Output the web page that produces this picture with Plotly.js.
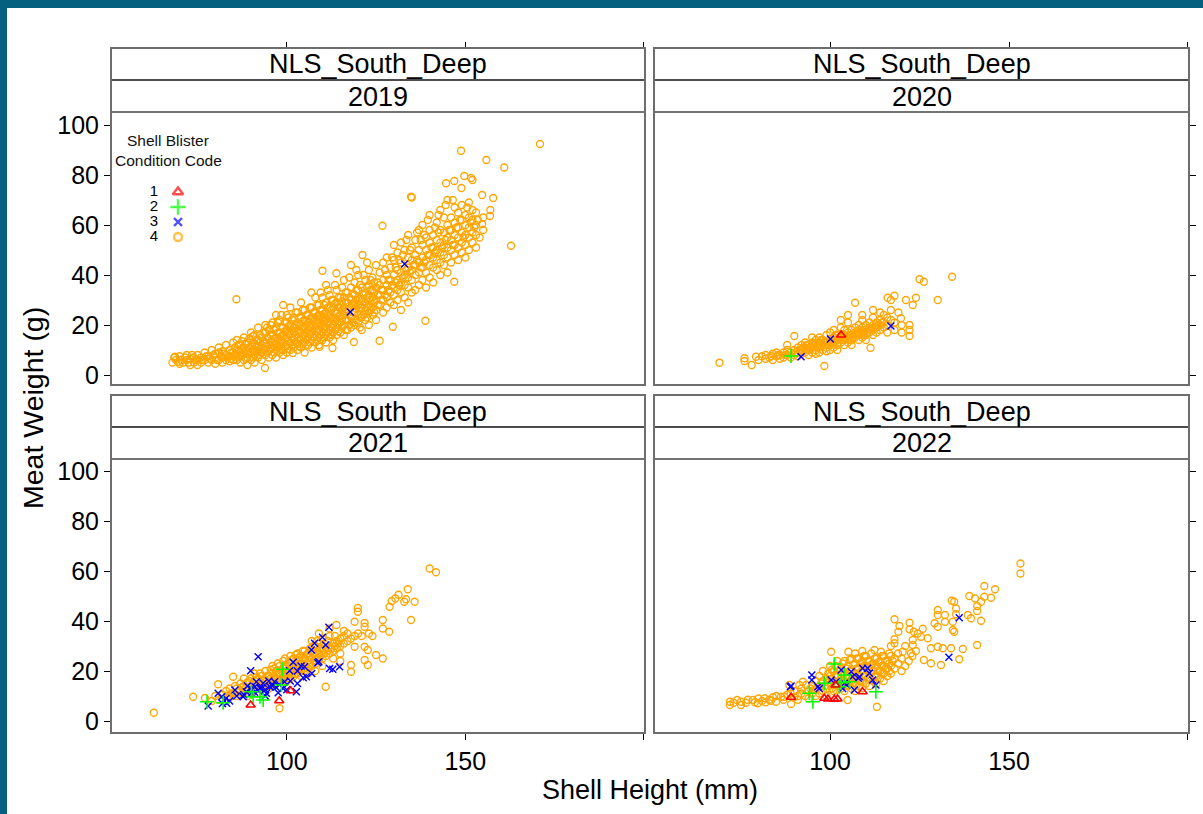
<!DOCTYPE html>
<html><head><meta charset="utf-8">
<script src="https://cdn.plot.ly/plotly-3.0.1.min.js"></script>
<style>
html,body{margin:0;padding:0;background:#fff;}
#wrap{position:relative;width:1203px;height:814px;overflow:hidden;}
#chart{position:absolute;left:0;top:0;width:1203px;height:814px;}
.bar{position:absolute;background:#05607f;}
</style></head><body>
<div id="wrap"><div id="chart"></div>
<div class="bar" style="left:0;top:0;width:1203px;height:8px"></div>
<div class="bar" style="left:0;top:0;width:7px;height:814px"></div>
</div>
<script>
// ---------------- DATA ----------------
const stripLabel = 'NLS_South_Deep';
const years = ['2019', '2020', '2021', '2022'];
const codes = ['1', '2', '3', '4'];
const legendTitle1 = 'Shell Blister';
const legendTitle2 = 'Condition Code';
const xTitle = 'Shell Height (mm)';
const yTitle = 'Meat Weight (g)';
const xTickVals = [100, 150, 200];
const xTickText = ['100', '150', ''];
const yTickVals = [0, 20, 40, 60, 80, 100];

// [shell height (mm), meat weight (g)]
const pts2019_code4 = [
[68,5],[68.5,7],[68.7,7.3],[69,6],[69.6,5.3],[70,4.5],[70,7.5],[71,5],[72,6],[72,8],[73,4],[73,6.5],[74,7],[74,5],[75,6],[75,8],[75,4],
[76,5],[76,7],[77,6],[77,9],[78,5],[78,7.5],[79,6],[79,10],[80,4.5],[80,7],[80,8.5],[81,6],[81,9],[81,11],[82,5],[82,7],[82,9.5],[83,6],[83,8],[83,12],[84,5.5],[84,7.5],[84,10],[85,6],[85,9],[85,13],[85.9,30.3],
[86,6],[86,8],[86,10],[86,14],[87,5],[87,7.5],[87,9],[87,12],[88,6],[88,8.5],[88,11],[88,15],[89,4],[89,7],[89,10],[89,13],[90,6],[90,9],[90,11.5],[90,14],[90,17],
[91,5],[91,8],[91,10],[91,12.5],[91,16],[92,7],[92,9.5],[92,11],[92,14],[92,19],[93,6],[93,9],[93,12],[93,15],[93.9,2.8],[94,8],[94,10.5],[94,13],[94,17],[94,20],[95,7],[95,9.5],[95,12],[95,14.5],[95,18],
[96,8],[96,11],[96,13],[96,16],[96,21],[97,7],[97,10],[97,12.5],[97,15],[97,19],[97,24],[98,9],[98,11.5],[98,14],[98,17],[98,22],[99,8],[99,10],[99,13],[99,16],[99,19],[99,28],
[100,9],[100,12],[100,15],[100,18],[100,21],[100,24],[101,10],[101,13],[101,16.5],[101,20],[101,27],[101.7,8.8],[102,11],[102,14],[102,17],[102,19],[102,23],[103,10],[103,12.5],[103,15],[103,18],[103,21],[103,25],
[104,11],[104,14],[104,17],[104,20],[104,23],[104,29],[105,9],[105,13],[105,16],[105,19],[105,22],[105,26],
[106,12],[106,15],[106,18],[106,21],[106,24],[106.9,33],[107,11],[107,14],[107,17],[107,20],[107,23],[107,27],[108,13],[108,16],[108,19],[108,22],[108,25],[108,31],
[109,12],[109.2,11.3],[109,15],[109,18],[109,21],[109,24],[109,28],[110,14],[110,17],[110,20],[110,23],[110,26],[110,31],[110,41.7],[111,13],[111,16],[111,19],[111,22],[111,25],[111,29],[111,36],
[112,15],[112,18],[112,21],[112,24],[112,27],[112,32],[112.8,10.8],[113,14],[113,17],[113,20],[113,23],[113,27],[113,30],[113.9,40.7],[114,16],[114,19],[114,22],[114,25],[114,29],[114,34],[115,17],[115,21],[115,24],[115,28],[115,31],
[116,16],[116,20],[116,24],[116,27],[116,31],[116,38],[117,18],[117,22],[117,26],[117,29],[117,33],[118,19],[118,23],[118,27],[118,30],[118,35],[118,44],[118.8,13.2],[119,20],[119,25],[119,28],[119,32],[119,37],
[120,21],[120,24],[120,28],[120,31],[120,34],[120,40],[121,18],[121,23],[121,27],[121,30],[121,35],[121.2,48],[122,22],[122,26],[122,29],[122,33],[122,38],[123,20],[123,25],[123,28],[123,32],[123,36],[123,42],
[124,24],[124,27],[124,31],[124,34],[124,39],[125,22],[125,26],[125,30],[125,35],[125,44],
[126,13.7],[126,28],[126,32],[126,36],[126,41],[126.8,59.7],[127,25],[127,30],[127,34],[127,38],[127,45],[128,27],[128,31],[128,36],[128,40],[128,47],[129,29],[129,33],[129,38],[129,43],[129.7,19.3],
[130,28],[130,32],[130,35],[130,40],[130,46],[130,52],[131,30],[131,34],[131,38],[131,42],[131,49],[132,26],[132,33],[132,37],[132,41],[132,45],[132,53],[133,31],[133,36],[133,40],[133,50],
[134,29],[134,35],[134,39],[134,43],[134,47],[134,56],[134.8,71.3],[135,33],[135,38],[135,42],[135,46],[135,51],[135,71],
[136,34],[136,40],[136,44],[136,48],[136,54],[137,36],[137,41],[137,45],[137,50],[137,58],[138,38],[138,43],[138,47],[138,52],[138,60],[138.8,21.7],[139,35],[139,41],[139,46],[139,50],[139,55],
[140,39],[140,44],[140,48],[140,53],[140,58],[140,64],[141,37],[141,43],[141,47],[141,51],[141,56],[142,42],[142,46],[142,50],[142,54],[142,61],[143,40],[143,45],[143,49],[143,53],[143,58],[143,66],
[144,44],[144,48],[144,52],[144,57],[144,63],[144.6,76.7],[145,41],[145,47],[145,51],[145,55],[145,60],[145,70],
[146,45],[146,50],[146,54],[146,58],[146,63],[146.9,37.3],[146.9,77.6],[147,48],[147,52],[147,56],[147,61],[147,67],[148,46],[148,51],[148,55],[148,59],[148,65],[148.8,89.7],[148.9,74.8],
[149,49],[149,53],[149,57],[149,62],[149,68],[149.7,79.6],[150,47],[150,52],[150,56],[150,60],[150,64],[151,50],[151,55],[151,59],[151,63],[151,69],[151.6,78.8],
[152,53],[152,57],[152,62],[152,66],[152,78],[153,51],[153,56],[153,60],[153,65],[154,55],[154.7,60.4],[154.7,72],[155,58],[155,63],[155.9,86],[156.9,63.6],[157.8,70.8],[157,66],[160.9,83],[162.8,51.7],[170.9,92.4]
];
const pts2019_code4_more = [
[70.5,6],[71.5,7],[72.5,5],[73.5,8],[74.5,6],[76.5,6],[77.5,7.5],[78.5,6.5],[79.5,8],[80.5,6],[81.5,7.5],[82.5,8.5],[83.5,7],[84.5,9],[84.5,6.5],
[85.5,8],[85.5,11],[86.5,7],[86.5,9.5],[86.5,12],[87.5,8],[87.5,10.5],[87.5,13.5],[88.5,7],[88.5,9.5],[88.5,12.5],[89.5,8.5],[89.5,11],[89.5,14.5],[90.5,7],[90.5,10],[90.5,13],[90.5,15.5],
[91.5,9],[91.5,11.5],[91.5,14],[92.5,8],[92.5,10.5],[92.5,13],[92.5,16],[93.5,10],[93.5,13.5],[93.5,17],[94.5,9],[94.5,11.5],[94.5,15],[94.5,19],[95.5,10.5],[95.5,13],[95.5,16],[95.5,20],
[96.5,9],[96.5,12],[96.5,14.5],[96.5,18],[97.5,11],[97.5,14],[97.5,17],[97.5,21],[98.5,10],[98.5,13],[98.5,15.5],[98.5,19],[98.5,24],[99.5,11.5],[99.5,14.5],[99.5,17.5],[99.5,21],
[100.5,10.5],[100.5,13.5],[100.5,16.5],[100.5,19.5],[100.5,23],[101.5,12],[101.5,15],[101.5,18],[101.5,22],[102.5,13],[102.5,16],[102.5,20],[102.5,25],[103.5,11.5],[103.5,14],[103.5,17],[103.5,20],[103.5,23],
[104.5,12.5],[104.5,15.5],[104.5,18.5],[104.5,21.5],[104.5,26],[105.5,14],[105.5,17],[105.5,20],[105.5,24],[106.5,13],[106.5,16.5],[106.5,19.5],[106.5,22.5],[106.5,27],
[107.5,15],[107.5,18],[107.5,21.5],[107.5,25],[108.5,14],[108.5,17.5],[108.5,20.5],[108.5,23.5],[108.5,28],[109.5,16],[109.5,19.5],[109.5,22.5],[109.5,26],[109.5,33],
[110.5,15],[110.5,18.5],[110.5,21.5],[110.5,24.5],[110.5,28],[111.5,17],[111.5,20.5],[111.5,23.5],[111.5,27],[111.5,34],[112.5,16],[112.5,19],[112.5,22.5],[112.5,26],[112.5,30],
[113.5,18],[113.5,21.5],[113.5,25],[113.5,28.5],[113.5,36],[114.5,17.5],[114.5,20.5],[114.5,23.5],[114.5,27],[114.5,31],[115.5,19],[115.5,22.5],[115.5,26],[115.5,29.5],[115.5,35],
[116.5,18],[116.5,22],[116.5,25.5],[116.5,29],[116.5,33],[117.5,20],[117.5,24],[117.5,27.5],[117.5,31],[117.5,39],[118.5,21],[118.5,25],[118.5,28.5],[118.5,32.5],[119.5,22],[119.5,26.5],[119.5,30],[119.5,34],[119.5,42],
[120.5,19],[120.5,23],[120.5,27],[120.5,30.5],[120.5,36],[121.5,24],[121.5,28],[121.5,32],[121.5,40],[122.5,23],[122.5,27],[122.5,31],[122.5,35],[122.5,45],[123.5,26],[123.5,30],[123.5,34],[123.5,38],
[124.5,25],[124.5,29],[124.5,33],[124.5,37],[125.5,28],[125.5,32],[125.5,37],[126.5,30],[126.5,34],[127.5,32],[127.5,42],[128.5,34],[128.5,38],[129.5,36],[129.5,47],
[130.5,37],[130.5,43],[131.5,36],[131.5,46],[132.5,39],[132.5,48],[133.5,42],[133.5,54],[134.5,41],[134.5,50],[135.5,44],[136.5,46],[136.5,57],
[137.5,43],[137.5,54],[138.5,45],[138.5,56],[139.5,48],[139.5,62],[140.5,51],[141.5,49],[141.5,59],[142.5,57],[142.5,64],[143.5,51],[144.5,54],[144.5,68],
[145.5,58],[146.5,52],[146.5,70],[147.5,59],[148.5,62],[149.5,55],[150.5,67],[151.5,61],[152.5,59],[153.5,62]
];
const pts2019_code3 = [[133,44.4],[117.8,25.2]];
const pts2019_code2 = [];
const pts2019_code1 = [];

const pts2020_code4 = [
[69.1,4.9],[76.1,6.7],[76.1,5.6],[78.1,4],[79.3,7.3],[80,6],[81,7.5],[82,6.5],[82,8],[83,7],[84,8.5],[84,6],[85,7.5],[85,9],[86,8],[86,6.5],[87,9],[87,7],[88,8],[88,10],[88,12],[89,7],[89,9],
[90,8],[90,10],[90,15.6],[91,9],[91,11],[91,7.5],[92,10],[92,8.5],[92,12],[93,9],[93,11],[93,13],[94,10],[94,8],[94,12],[95,11],[95,9],[95,13],[95,15],
[96,10],[96,12],[96,14],[96,8.5],[97,11],[97,13],[97,15],[97,9],[98,12],[98,10],[98,14],[98.4,3.6],[99,11],[99,13],[99,16],[99,9.5],[100,12],[100,14],[100,10],[100,17],
[101,13],[101,11],[101,15],[101,18],[102,12],[102,14],[102,16],[102,10],[103,13],[103,15],[103,19],[103,22],[104,14],[104,12],[104,16],[104,18],[105,13],[105,15],[105,17],[105,21],[105,24],
[106,14],[106,16],[106,18],[106,12],[107,15],[107,17],[107,19],[107,28.9],[108,16],[108,14],[108,18],[108,20],[109,15],[109,17],[109,19],[109,22],[109,24],
[110,16],[110,18],[110,20],[110,14],[111,17],[111,19],[111,21],[111.3,10.9],[112,18],[112,20],[112,16],[112,23],[112,26],[113,19],[113,21],[113,17],[114,20],[114,22],[114,18],[114,25],
[115,19],[115,21],[115,24],[116,20],[116,23],[116.1,30.9],[116,17],[117,22],[117,26],[117,30],[118,21],[118,31.7],[118,18],[119.1,25],[119.8,22.7],[120,20],[120,17],
[121.2,30],[122.2,20],[122.2,18],[122.2,15.6],[123.1,28],[124,30.9],[125,38.3],[126.2,37.3],[130.1,30],[134.1,39.3]
];
const pts2020_code4_more = [
[83.5,7.5],[85.5,8],[87.5,8],[90.5,9],[91.5,10],[92.5,11],[93.5,10],[93.5,12],[94.5,11],[95.5,12],[96.5,11],[97.5,12],[97.5,14],[98.5,13],[99.5,12],[100.5,13],
[101.5,14],[101.5,16],[102.5,15],[103.5,14],[104.5,15],[105.5,16],[105.5,14],[106.5,15],[107.5,16],[108.5,17],[109.5,18],[109.5,16],[110.5,17],[111.5,18],[112.5,19],[113.5,20],[114.5,21]
];
const pts2020_code3 = [[100.1,14.4],[91.9,7.3],[117,19.6]];
const pts2020_code2 = [[89.1,7.6]];
const pts2020_code1 = [[103.1,16]];

const pts2021_code4 = [
[62.8,3.3],[73.8,9.7],[77.1,9.2],[79,8],[80,10],[80.8,14.7],[81,8.5],[82,10.5],[83,12],[84,9.5],[84,13],[85,17.7],[85,11],[86,13],[86,10],[87,12],[87,15],[88,11],[88,14],[88,17],[89,12.5],[89,15.5],[89,10],
[90,14],[90,17],[90,12],[91,13],[91,16],[91,19],[92,14],[92,17],[92,11],[93,15],[93,13],[93,18],[94,14],[94,16.5],[94,20],[95,15],[95,13],[95,18],[96,16],[96,19],[96,22],[97,15],[97,17],[97,20],
[98,16],[98,18.5],[98,22],[98,5.1],[99,17],[99,19],[99,21],[99,24],[100,16],[100,18],[100,20],[100,22],[101,17],[101,19.5],[101,23],[101,26],[102,18],[102,20],[102,22],[102,25],
[103,19],[103,21],[103,24],[103,27],[104,18],[104,20],[104,23],[104,26],[105,20],[105,22],[105,25],[105,28],[106,21],[106,24],[106,27],[106,19],[107,22],[107,25],[107,28],[107,32],
[108,23],[108,26],[108,30],[108,20],[109,24],[109,27],[109,31],[109,35],[110,25],[110,28],[110,33],[110,22],[110.9,13.7],[111,26],[111,29],[112,27],[112,30],[112,34],[112,37],[113,28],[113,31],[113,25],[113.9,38.4],
[114,29],[114,32],[115,30],[115,33],[115,27],[115,24],[116,31],[116,34],[116,36],[117,32],[117,35],[118,22.4],[118,19.7],[118,33],[119,29.7],[119,34],[119,39.7],[119.9,45.2],[119.9,43.7],[120,35],[121,34],
[121.8,39.2],[121.8,37.7],[121.8,29.7],[122.7,28.4],[121.8,24.4],[122.7,22.4],[123,35],[124,34],[125,26.4],[126.9,25],[126.9,40.4],[126.9,37],[128.7,35.7],[128.8,45.7],[129.4,48],[130.4,49],
[131.3,50.5],[132.9,47.7],[133.4,48.7],[133.9,52.7],[134.8,40.4],[135.8,47.7],[140,61],[141.8,59.5]
];
const pts2021_code4_more = [
[83.5,10],[84.5,11],[85.5,14],[86.5,11.5],[87.5,13.5],[88.5,13],[89.5,16],[90.5,15],[91.5,14.5],[91.5,17.5],[92.5,15.5],[92.5,19],[93.5,14],[93.5,16.5],[94.5,15],[94.5,18],
[95.5,14],[95.5,17],[95.5,20.5],[96.5,15],[96.5,17.5],[96.5,21],[97.5,16],[97.5,19],[97.5,23],[98.5,17],[98.5,20],[99.5,18],[99.5,22],[99.5,25],[100.5,17],[100.5,19.5],[100.5,23.5],
[101.5,18.5],[101.5,21],[101.5,24.5],[102.5,19],[102.5,23],[102.5,26.5],[103.5,20],[103.5,22.5],[103.5,25.5],[104.5,21],[104.5,24.5],[104.5,28],[105.5,21.5],[105.5,26.5],
[106.5,22.5],[106.5,25.5],[106.5,29],[107.5,24],[107.5,27],[107.5,30],[108.5,25],[108.5,28],[108.5,32],[109.5,26],[109.5,29],[110.5,27],[110.5,31],[111.5,28],[111.5,32],[112.5,29],[113.5,30],[113.5,34],[114.5,31]
];
const pts2021_code3 = [
[111.8,37.5],[110,33.5],[107.8,31.1],[106.9,28.4],[110.9,30.4],[109,23.7],[112.9,20.7],[114.8,21.7],[105,21.7],[105.5,17.7],[104.6,17.3],[101.8,23.5],[100.8,20.1],[99.4,15.7],[102.7,11.7],
[92,25.7],[89.9,20.1],[96.6,15.7],[95.3,13.7],[93.4,15.1],[91.5,15.7],[91.1,13.7],[90.1,11.1],[88.7,11.7],[87.8,9.7],[85.5,12.4],[83.2,7.1],[81.8,9.7],[80.8,11.1],[78,6],
[97.6,11.3],[94.3,11.1],[92.5,13.1],[96,14],[94,12.5],[93,13],[92,12],[97,13.5],[98,14.5],[99,13],[95,16],[94,10],[91,11.5],[90,13],[89,14],[88,10.5],[86,10],[84,8],[83,9],[82,7],
[101,16],[103,15],[100,12.5],[107,19],[104,22],[103,20],[108.7,23.3],[112,21]
];
const pts2021_code2 = [[77.7,7.7],[82.2,7.3],[92.5,9.7],[93.4,8.4],[90.6,9.7],[98.5,14.4],[98.8,20.7],[90.1,11.7]];
const pts2021_code1 = [[89.9,6.4],[97.9,8.1],[101.1,12.1]];

const pts2022_code4 = [
[72,7.7],[72,6.4],[73,7.3],[74,8.4],[75.1,7.7],[75.1,6.4],[76.5,7.3],[77,8.5],[78.4,8.4],[79,7.5],[79.8,7.1],[80,9],[81,8],[81.7,9.1],[82,7.5],[83,8.5],[83.5,8.1],[84,9.5],[84.9,7.7],[85,10],
[86.3,9.7],[87,8.5],[87.2,9.7],[88,10.5],[88.6,14.4],[89.1,6.8],[89,11],[90,9.5],[90,12],[91,10],[91.4,14.4],[91,8.5],[92.4,15.7],[92,11],[92,13],[93.3,14.4],[93,10],[94,12],[94,9],
[95,11],[95,14],[96,12.5],[96,10],[96,16],[97,11],[97,14],[97,18],[98,12],[98,16],[98,20],[99,13],[99,17],[99,10],[100.3,15.1],[100,18],[100,22],[100.3,27.7],
[101,12],[101,16],[101,20],[101.7,12.4],[102,14],[102,18],[102,24],[103,13],[103,17],[103,21],[104,12],[104,16],[104,19],[104,24],[104.9,8.4],[105,14],[105,18],[105,22],[105.1,27.7],
[106,13],[106,16],[106,20],[106,25],[107,12],[107,15],[107,19],[107,23],[107,27],[108,14],[108,18],[108,21],[108,25],[109,13],[109,16],[109,20],[109,24],[109,28],
[110,15],[110,18],[110,22],[110,26],[111,14],[111,17],[111,21],[111,24],[112,16],[112,20],[112,23],[112.4,28.4],[113,15],[113,18],[113,22],[113,25],[113.1,5.7],
[114,17],[114,20],[114,24],[114.2,27.7],[115,16],[115,19],[115,22],[115,26],[116,18],[116,21],[116,24],[117,19],[117,22],[117,26],[117,30],
[118,32.7],[118,31.1],[118,40.7],[118,21],[118,25],[119.4,38],[119.1,35.7],[119,23],[119,27],[120,20],[120,25],[120.3,27.7],[121,22],[121,30],[122.2,39.3],[122.2,36.7],[122.6,27.1],[122,24],
[123.4,35.7],[123.1,32.4],[123.1,30.4],[123,26],[124.5,35],[124,28],[125.9,36.9],[125.4,33.7],[126.2,24.4],[127.3,33.1],[128.2,29.1],[128.2,23.1],[129.2,39.1],
[130.1,44.4],[130.1,42.4],[130.1,37.7],[130.1,29.7],[131,22.4],[131.5,29.1],[132.1,42.4],[132.1,39.7],[133.8,29.1],[134,48.1],[134.7,47.7],[135.2,45],[135.2,42.7],[134.3,36.4],[134.7,35.7],[134.3,39.7],
[136.1,24.7],[137.1,28.8],[138.5,42.4],[139.4,41.1],[138.9,50],[140.5,49],[141.1,46],[141.1,44],[141.1,30.4],[142.2,40.1],[142.2,47.7],[143.1,49.7],[143.1,54],[145,49.3],[146.1,52.7],[153.2,63],[153.2,59]
];
const pts2022_code4_more = [
[94.5,13],[95.5,12.5],[96.5,13],[97.5,15],[98.5,14],[99.5,15.5],[99.5,19],[100.5,13],[100.5,17],[100.5,20.5],[101.5,14.5],[101.5,18.5],[101.5,22],[102.5,16],[102.5,20],
[103.5,15],[103.5,19],[103.5,23],[104.5,14],[104.5,17.5],[104.5,21],[105.5,16],[105.5,20],[105.5,24.5],[106.5,15],[106.5,18],[106.5,22.5],[107.5,17],[107.5,21],[107.5,25],
[108.5,16],[108.5,19.5],[108.5,23],[109.5,18],[109.5,22],[109.5,26],[110.5,17],[110.5,20],[110.5,24],[111.5,19],[111.5,22.5],[111.5,27],[112.5,18],[112.5,21.5],[112.5,25],
[113.5,20],[113.5,23.5],[114.5,19],[114.5,22],[114.5,26],[115.5,21],[115.5,24],[116.5,20],[116.5,23],[116.5,27],[117.5,24]
];
const pts2022_code3 = [
[88.9,13.7],[89.1,14],[94.9,18.4],[94.9,16.4],[96.6,13.7],[97,13],[103.5,13],[104.7,14.4],[106.8,12.4],[108.2,17.7],[109.1,21.1],[110.5,21.1],[111,19.1],[111.9,16.4],[112.8,14.4],
[107.9,17.1],[103.1,20.4],[100.3,16.4],[101.7,15.7],[104,15.1],[106.3,17.7],[105.9,19.7],[136.1,41.3],[133.2,25.5]
];
const pts2022_code2 = [[101.2,22.8],[94.2,11.1],[95.2,7.7],[104,18.4],[103.1,15.3],[105.4,15.7],[102.6,13.7],[112.8,11.7],[98.4,15.1]];
const pts2022_code1 = [[89.1,9.5],[98.4,9.1],[99.4,8.8],[101.2,8.7],[102.1,8.8],[101.5,14.4],[109.1,11.7]];

// ---------------- LAYOUT HELPERS ----------------
const W = 1203, H = 814;
const L = 111, R = 1189, T = 48, B = 733;
const fx = p => (p - L) / (R - L);
const fy = p => (B - p) / (B - T);
const FONT = 'Arial, "Liberation Sans", sans-serif';

const styles = {
  '1': {symbol: 'triangle-up-open', color: '#FF0000', size: 8, width: 1.6},
  '2': {symbol: 'cross-thin-open', color: '#00FF00', size: 10, width: 1.6},
  '3': {symbol: 'x-thin-open', color: '#0000FF', size: 7, width: 1.4},
  '4': {symbol: 'circle-open', color: '#FFA500', size: 7, width: 1.3}
};

const panelData = [
  {xa: 'x',  ya: 'y',  sets: {'1': pts2019_code1, '2': pts2019_code2, '3': pts2019_code3, '4': pts2019_code4.concat(pts2019_code4_more)}},
  {xa: 'x2', ya: 'y2', sets: {'1': pts2020_code1, '2': pts2020_code2, '3': pts2020_code3, '4': pts2020_code4.concat(pts2020_code4_more)}},
  {xa: 'x3', ya: 'y3', sets: {'1': pts2021_code1, '2': pts2021_code2, '3': pts2021_code3, '4': pts2021_code4.concat(pts2021_code4_more)}},
  {xa: 'x4', ya: 'y4', sets: {'1': pts2022_code1, '2': pts2022_code2, '3': pts2022_code3, '4': pts2022_code4.concat(pts2022_code4_more)}}
];

const traces = [];
panelData.forEach(p => {
  ['4', '3', '2', '1'].forEach(c => {
    const pts = p.sets[c];
    const s = styles[c];
    traces.push({
      type: 'scatter', mode: 'markers', xaxis: p.xa, yaxis: p.ya,
      x: pts.map(d => d[0]), y: pts.map(d => d[1]),
      marker: {symbol: s.symbol, size: s.size, color: s.color, line: {color: s.color, width: s.width}},
      hoverinfo: 'x+y', showlegend: false
    });
  });
});

// key (legend) drawn on its own hidden axes
traces.push({
  type: 'scatter', mode: 'text', xaxis: 'x5', yaxis: 'y5',
  x: codes.map(() => 0.28), y: codes.map(c => +c), text: codes,
  textfont: {family: FONT, size: 15, color: '#000'}, hoverinfo: 'skip', showlegend: false, cliponaxis: false
});
traces.push({
  type: 'scatter', mode: 'markers', xaxis: 'x5', yaxis: 'y5',
  x: codes.map(() => 0.76), y: codes.map(c => +c),
  marker: {symbol: codes.map(c => styles[c].symbol), size: codes.map(c => styles[c].size + 1),
           color: codes.map(c => styles[c].color),
           line: {color: codes.map(c => styles[c].color), width: 2.4}},
  hoverinfo: 'skip', showlegend: false, cliponaxis: false
});

const tickFont = {family: FONT, size: 25, color: '#000'};
const leftDom = [0, fx(645)], rightDom = [fx(654), 1];
const topDom = [fy(385), fy(112)], botDom = [0, fy(459)];
const xr = [50.8, 200.3];
const xTop = dom => ({domain: dom, range: xr, anchor: 'free', position: 1, side: 'top',
  tickvals: xTickVals, ticktext: xTickText, showticklabels: false, ticks: 'outside', ticklen: 6, tickwidth: 1, tickcolor: '#000',
  showgrid: false, zeroline: false, showline: false, fixedrange: true});
const xBot = (dom, anc) => ({domain: dom, range: xr, anchor: anc, side: 'bottom',
  tickvals: xTickVals, ticktext: xTickText, showticklabels: true, ticks: 'outside', ticklen: 6, tickwidth: 1, tickcolor: '#000',
  tickfont: tickFont, showgrid: false, zeroline: false, showline: false, fixedrange: true});
const yAx = (dom, rng, anc, side, labels) => ({domain: dom, range: rng, anchor: anc, side: side,
  tickvals: yTickVals, showticklabels: labels, ticks: 'outside', ticklen: 6, tickwidth: 1, tickcolor: '#000',
  tickfont: tickFont, showgrid: false, zeroline: false, showline: false, fixedrange: true});

const shapes = [];
const annotations = [];
const panelsPx = [
  {l: 111, r: 645, top: 48, s1: 80, s2: 112, bot: 385, year: years[0]},
  {l: 654, r: 1189, top: 48, s1: 80, s2: 112, bot: 385, year: years[1]},
  {l: 111, r: 645, top: 395, s1: 427, s2: 459, bot: 733, year: years[2]},
  {l: 654, r: 1189, top: 395, s1: 427, s2: 459, bot: 733, year: years[3]}
];
panelsPx.forEach(p => {
  shapes.push({type: 'line', xref: 'paper', yref: 'paper', x0: fx(p.l), x1: fx(p.r), y0: fy(p.s1), y1: fy(p.s1), line: {color: '#111', width: 1.5}});
  shapes.push({type: 'line', xref: 'paper', yref: 'paper', x0: fx(p.l), x1: fx(p.r), y0: fy(p.s2), y1: fy(p.s2), line: {color: '#444', width: 1.5}});
  shapes.push({type: 'rect', xref: 'paper', yref: 'paper', x0: fx(p.l), x1: fx(p.r), y0: fy(p.bot), y1: fy(p.top), line: {color: '#6e6e6e', width: 2}, fillcolor: 'rgba(0,0,0,0)'});
  annotations.push({xref: 'paper', yref: 'paper', x: fx((p.l + p.r) / 2), y: fy((p.top + p.s1) / 2 + 0.5), text: stripLabel,
    showarrow: false, xanchor: 'center', yanchor: 'middle', font: {family: FONT, size: 27, color: '#000'}});
  annotations.push({xref: 'paper', yref: 'paper', x: fx((p.l + p.r) / 2), y: fy((p.s1 + p.s2) / 2 + 0.5), text: p.year,
    showarrow: false, xanchor: 'center', yanchor: 'middle', font: {family: FONT, size: 27, color: '#000'}});
});
annotations.push({xref: 'paper', yref: 'paper', x: fx(168), y: fy(141), text: legendTitle1, showarrow: false,
  xanchor: 'center', yanchor: 'middle', font: {family: FONT, size: 15.5, color: '#111'}});
annotations.push({xref: 'paper', yref: 'paper', x: fx(168), y: fy(160), text: legendTitle2, showarrow: false,
  xanchor: 'center', yanchor: 'middle', font: {family: FONT, size: 15.5, color: '#111'}});
annotations.push({xref: 'paper', yref: 'paper', x: fx(650), y: fy(790), text: xTitle, showarrow: false,
  xanchor: 'center', yanchor: 'middle', font: {family: FONT, size: 27, color: '#000'}});
annotations.push({xref: 'paper', yref: 'paper', x: fx(33), y: fy(408), text: yTitle, showarrow: false, textangle: -90,
  xanchor: 'center', yanchor: 'middle', font: {family: FONT, size: 28.5, color: '#000'}});

const layout = {
  width: W, height: H,
  margin: {l: L, r: W - R, t: T, b: H - B, pad: 0},
  paper_bgcolor: '#fff', plot_bgcolor: 'rgba(0,0,0,0)',
  showlegend: false, hovermode: 'closest',
  font: {family: FONT, color: '#000'},
  xaxis: xTop(leftDom),
  yaxis: yAx(topDom, [-4, 105.2], 'x', 'left', true),
  xaxis2: xTop(rightDom),
  yaxis2: yAx(topDom, [-4, 105.2], 'x2', 'right', false),
  xaxis3: xBot(leftDom, 'y3'),
  yaxis3: yAx(botDom, [-4.8, 104.8], 'x3', 'left', true),
  xaxis4: xBot(rightDom, 'y4'),
  yaxis4: yAx(botDom, [-4.8, 104.8], 'x4', 'right', false),
  xaxis5: {domain: [fx(140), fx(190)], range: [0, 1], anchor: 'y5', visible: false, fixedrange: true},
  yaxis5: {domain: [fy(244.5), fy(184.5)], range: [4.5, 0.5], anchor: 'x5', visible: false, fixedrange: true},
  shapes: shapes,
  annotations: annotations
};

Plotly.newPlot('chart', traces, layout, {displayModeBar: false, staticPlot: false});
</script>
</body></html>
